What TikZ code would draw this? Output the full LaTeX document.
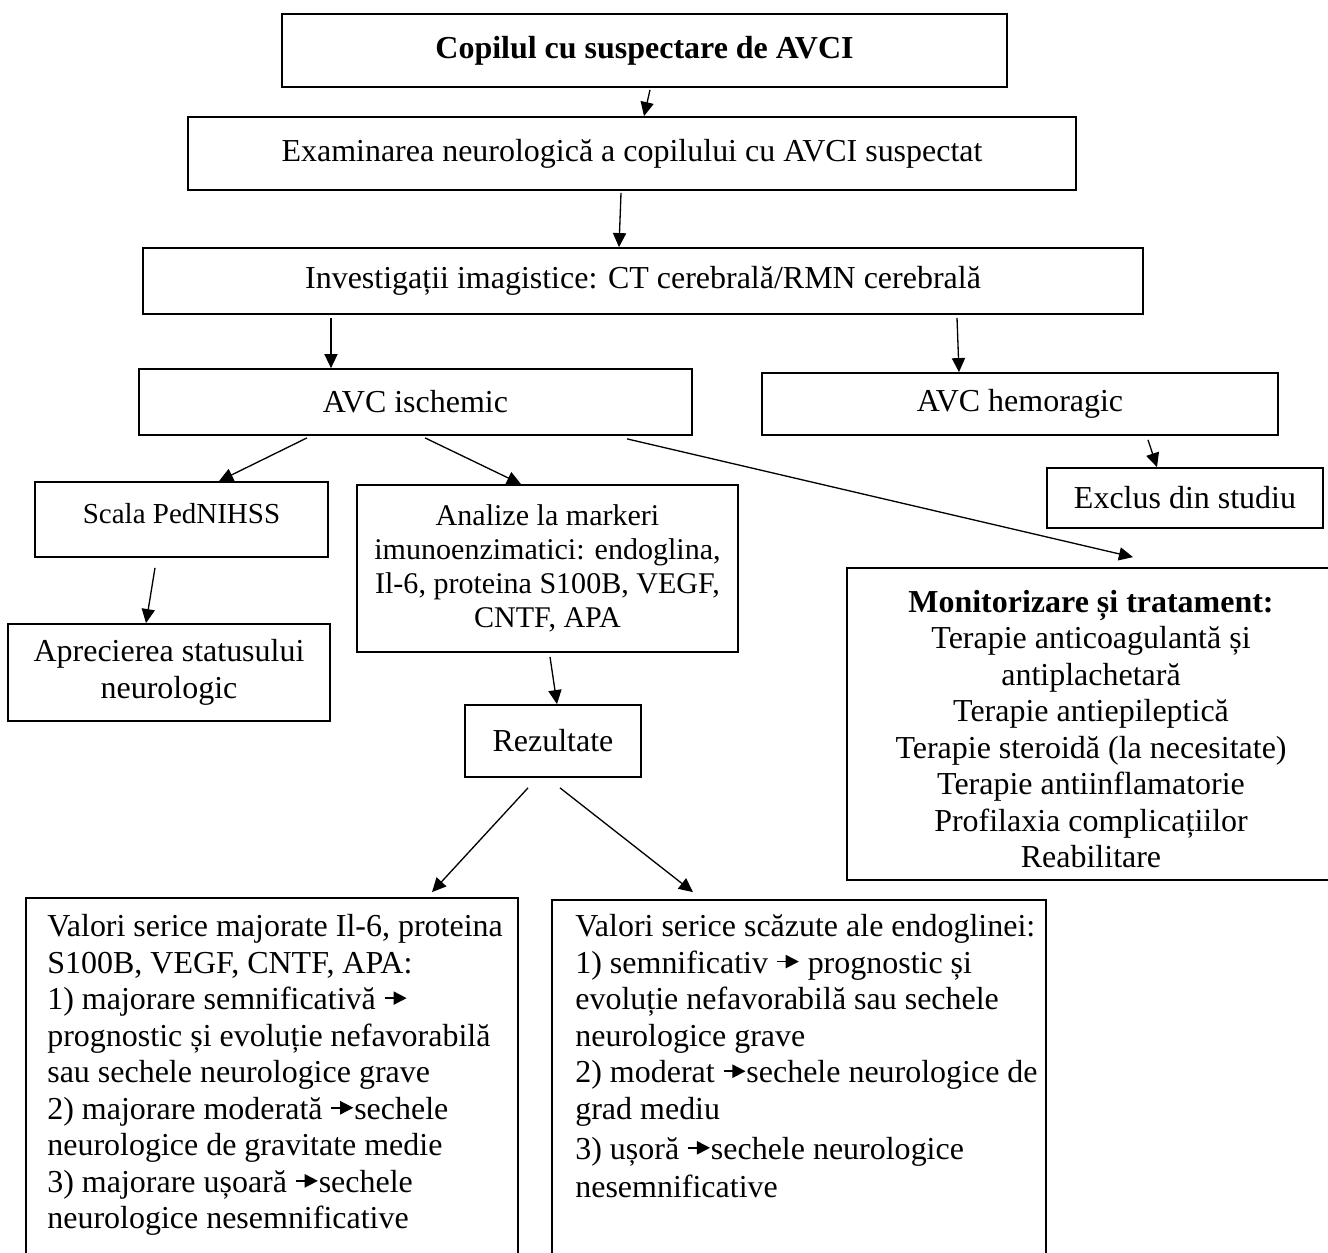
\documentclass[tikz,border=0pt]{standalone}
\usepackage{fontspec}
\setmainfont{Liberation Serif}
\usetikzlibrary{arrows.meta,calc}
\newcommand{\mainsz}{\fontsize{18.2pt}{20.8pt}\selectfont}
\newcommand{\midsz}{\fontsize{17.1pt}{19.35pt}\selectfont}
\newcommand{\scalasz}{\fontsize{16.5pt}{19pt}\selectfont}
\newcommand{\tarr}{\tikz[baseline=-0.36em]\draw[line width=1pt,-{Triangle[length=7.5pt,width=7.5pt]}] (0pt,0pt)--(12.5pt,0pt);}
\tikzset{
  box/.style 2 args={draw, line width=1pt, inner sep=0pt, minimum width=#1*0.02cm, minimum height=#2*0.02cm, align=center, font=\mainsz},
  conn/.style={draw, line width=0.75pt, -{Triangle[length=8pt,width=7.5pt]}},
}
\begin{document}
\begin{tikzpicture}[x=0.02cm,y=-0.02cm]
\useasboundingbox (0,0) rectangle (1328,1253);
\node[box={725}{73}] (b1) at (644.5,50.5) {\textbf{Copilul cu suspectare de AVCI}};
\node[box={888}{73}] (b2) at (632,153.5) {Examinarea neurologică a copilului cu AVCI suspectat};
\node[box={1000}{66}] (b3) at (643,281) {Investigații imagistice: CT cerebrală/RMN cerebrală};
\node[box={553}{66}] (isch) at (415.5,402) {AVC ischemic};
\node[box={516}{62}] (hem) at (1020,404) {AVC hemoragic};
\node[box={276}{60}] (excl) at (1185,498) {Exclus din studiu};
\node[box={293}{75}] (scala) at (181.5,519.5) {};
\node[font=\scalasz, inner sep=0pt] (scalat) at (181.5,514) {Scala PedNIHSS};
\node[box={381}{167}, font=\midsz] (anal) at (547.5,568.5) {Analize la markeri\\imunoenzimatici: endoglina,\\Il-6, proteina S100B, VEGF,\\CNTF, APA};
\node[box={488}{312}] (mon) at (1091,724) {};
\node[align=center, font=\mainsz, inner sep=0pt] (mont) at (1091,729) {\textbf{Monitorizare și tratament:}\\Terapie anticoagulantă și\\antiplachetară\\Terapie antiepileptică\\Terapie steroidă (la necesitate)\\Terapie antiinflamatorie\\Profilaxia complicațiilor\\Reabilitare};
\node[box={322}{97}] (apr) at (169,672.5) {Aprecierea statusului\\neurologic};
\node[box={176}{72}] (rez) at (553,741) {Rezultate};
\node[box={492}{372}] (lbox) at (272,1084) {};
\node[box={494}{370}] (rbox) at (799,1085) {};
\node[anchor=north west, align=left, inner sep=0pt, font=\mainsz] (ltext) at (47,914) {Valori serice majorate Il-6, proteina\\
S100B, VEGF, CNTF, APA:\\
1) majorare semnificativă \tarr\\
prognostic și evoluție nefavorabilă\\
sau sechele neurologice grave\\
2) majorare moderată \tarr{}sechele\\
neurologice de gravitate medie\\
3) majorare ușoară \tarr{}sechele\\
neurologice nesemnificative};
\node[anchor=north west, align=left, inner sep=0pt, font=\mainsz] (rtext) at (575,914) {Valori serice scăzute ale endoglinei:\\
1) semnificativ \tarr{} prognostic și\\
evoluție nefavorabilă sau sechele\\
neurologice grave\\
2) moderat \tarr{}sechele neurologice de\\
grad mediu\\[2pt]
3) ușoră \tarr{}sechele neurologice\\[1pt]
nesemnificative};
\draw[conn] ($(b1.south)+(5.5,2)$) -- ($(b2.north)+(12,0)$);
\draw[conn] ($(b2.south)+(-11,2)$) -- ($(b3.north)+(-24,0)$);
\draw[conn] ($(b3.south)+(-312,3)$) -- ($(isch.north)+(-84.5,0)$);
\draw[conn] ($(b3.south)+(314,3)$) -- ($(hem.north)+(-61,0)$);
\draw[conn] ($(isch.south)+(-108.5,2)$) -- ($(scala.north)+(37.5,0)$);
\draw[conn] ($(isch.south)+(9.5,2)$) -- ($(anal.north)+(-26.5,0)$);
\draw[conn] ($(isch.south)+(211.5,3)$) -- ($(mon.north)+(42,-10)$);
\draw[conn] ($(hem.south)+(128,4)$) -- ($(excl.north)+(-28,0)$);
\draw[conn] ($(scala.south)+(-26.5,10)$) -- ($(apr.north)+(-23,0)$);
\draw[conn] ($(anal.south)+(2.5,4)$) -- ($(rez.north)+(4,0)$);
\draw[conn] ($(rez.south)+(-25,10)$) -- ($(lbox.north)+(160,-5)$);
\draw[conn] ($(rez.south)+(7,10)$) -- ($(rbox.north)+(-106,-7)$);
\end{tikzpicture}
\end{document}
